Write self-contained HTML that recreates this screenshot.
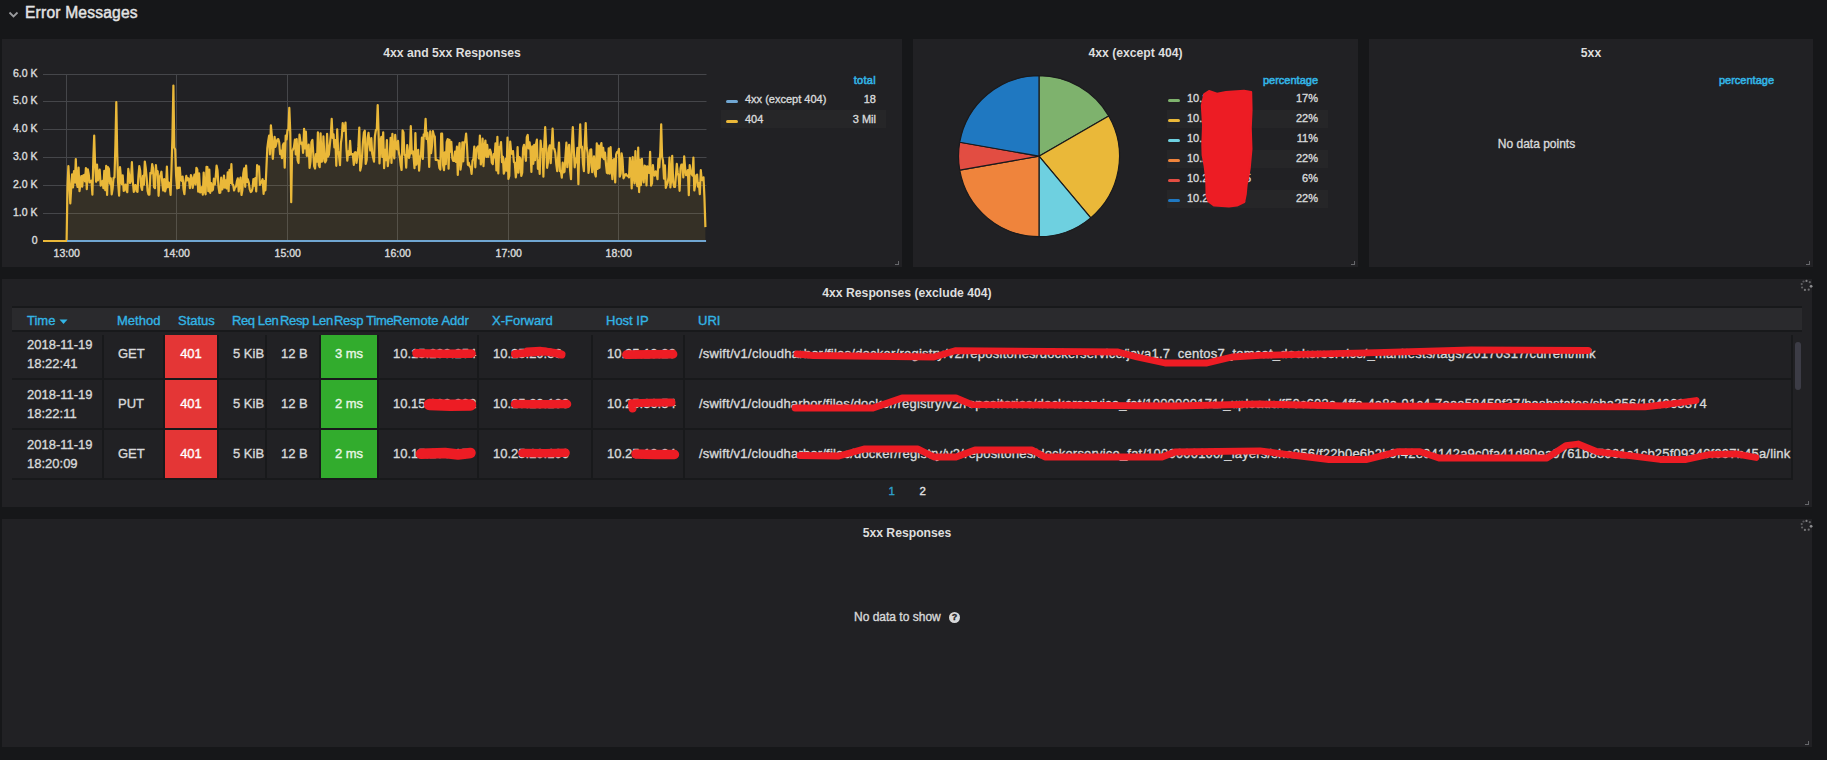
<!DOCTYPE html>
<html lang="en">
<head>
<meta charset="utf-8">
<title>Error Messages</title>
<style>
html,body{margin:0;padding:0;}
body{-webkit-text-stroke:0.35px;width:1827px;height:760px;overflow:hidden;background:#161719;color:#d8d9da;font-family:"Liberation Sans",sans-serif;font-size:13px;position:relative;}
.abs{position:absolute;}
.row-title{position:absolute;left:25px;top:2.6px;font-size:15.6px;letter-spacing:0.2px;line-height:20px;color:#e3e3e3;white-space:nowrap;-webkit-text-stroke:0.45px;}
.panel{position:absolute;background:#212124;}
.ptitle{position:absolute;left:0;right:0;top:6px;height:16px;line-height:16px;text-align:center;font-weight:bold;font-size:12.2px;color:#dedede;-webkit-text-stroke:0;white-space:nowrap;}
.resize{position:absolute;right:3px;bottom:2.5px;width:3.5px;height:2.8px;border-right:1.5px solid #66676b;border-bottom:1.3px solid #66676b;}
svg{position:absolute;left:0;top:0;}
svg text{font-family:"Liberation Sans",sans-serif;}
.lg{position:absolute;font-size:11px;line-height:18px;white-space:nowrap;color:#d8d9da;}
.lghead{color:#33b5e5;-webkit-text-stroke:0.55px;}
.lgrow{position:absolute;height:18px;}
.lgrow.alt{background:#262628;}
.lgicon{position:absolute;width:12px;height:3px;border-radius:1.5px;}
table.tb{position:absolute;border-collapse:separate;border-spacing:0;table-layout:fixed;font-size:13px;}
.tb td{box-sizing:border-box;height:50px;padding:0 0 0 14px;border-right:2px solid #18191b;border-bottom:2px solid #18191b;white-space:nowrap;overflow:hidden;line-height:19px;color:#d8d9da;}
.tb td:first-child{padding-left:15px;}
.tb td.s{padding-bottom:1.5px;}
.thead{position:absolute;background:#2a2a2d;border-top:2px solid #18191b;border-bottom:2px solid #18191b;}
.thead span{position:absolute;top:2px;line-height:21.5px;color:#33b5e5;white-space:nowrap;font-size:13px;}
</style>
</head>
<body>

<!-- dashboard row header -->
<svg class="abs" style="left:7.6px;top:9.8px" width="12" height="10" viewBox="0 0 12 10"><path d="M1.5,2.5 L5.5,6.5 L9.5,2.5" fill="none" stroke="#9a9b9e" stroke-width="1.8"/></svg>
<div class="row-title">Error Messages</div>

<!-- Panel 1 : graph -->
<div class="panel" style="left:2px;top:39px;width:900px;height:228px;">
  <div class="ptitle">4xx and 5xx Responses</div>
  <div class="resize"></div>
</div>

<!-- Panel 2 : pie -->
<div class="panel" style="left:913px;top:39px;width:445px;height:228px;">
  <div class="ptitle">4xx (except 404)</div>
  <div class="resize"></div>
</div>

<!-- Panel 3 : 5xx pie (empty) -->
<div class="panel" style="left:1369px;top:39px;width:444px;height:228px;">
  <div class="ptitle">5xx</div>
  <div class="abs" style="left:0;width:335px;top:96px;text-align:center;font-size:12px;line-height:18px;color:#d8d9da;">No data points</div>
  <div class="resize"></div>
</div>

<!-- Panel 4 : table -->
<div class="panel" style="left:2px;top:279px;width:1810px;height:228px;">
  <div class="ptitle">4xx Responses (exclude 404)</div>
  <div class="resize"></div>
</div>

<!-- Panel 5 : 5xx table (empty) -->
<div class="panel" style="left:2px;top:519px;width:1810px;height:228px;">
  <div class="ptitle">5xx Responses</div>
  <div class="abs" style="left:852px;top:89px;font-size:12px;line-height:18px;white-space:nowrap;color:#d8d9da;">No data to show</div>
  <div class="abs" style="left:947px;top:93px;width:11px;height:11px;border-radius:50%;background:#d8d9da;color:#212124;font-size:9px;font-weight:bold;line-height:11px;text-align:center;">?</div>
  <div class="resize"></div>
</div>

<!-- graph + pie drawing layer (page coordinates) -->
<svg width="1827" height="280" viewBox="0 0 1827 280">
  <g stroke="#45464a" stroke-width="1"><line x1="43" x2="706.5" y1="241.00" y2="241.00"/><line x1="43" x2="706.5" y1="213.50" y2="213.50"/><line x1="43" x2="706.5" y1="185.50" y2="185.50"/><line x1="43" x2="706.5" y1="157.50" y2="157.50"/><line x1="43" x2="706.5" y1="129.50" y2="129.50"/><line x1="43" x2="706.5" y1="101.50" y2="101.50"/><line x1="43" x2="706.5" y1="74.50" y2="74.50"/><line x1="66.50" x2="66.50" y1="74" y2="241"/><line x1="176.50" x2="176.50" y1="74" y2="241"/><line x1="287.50" x2="287.50" y1="74" y2="241"/><line x1="397.50" x2="397.50" y1="74" y2="241"/><line x1="508.50" x2="508.50" y1="74" y2="241"/><line x1="618.50" x2="618.50" y1="74" y2="241"/></g>
  <path d="M67,241 L66.6,241.0 L67.5,185.5 L68.4,166.1 L69.4,185.5 L70.3,203.5 L71.2,188.3 L72.1,174.4 L73.0,187.4 L74.0,171.0 L74.9,182.4 L75.8,159.1 L76.7,182.8 L77.6,186.9 L78.6,167.5 L79.5,191.1 L80.4,184.1 L81.3,176.1 L82.2,186.7 L83.2,175.4 L84.1,175.0 L85.0,181.4 L85.9,168.1 L86.8,189.1 L87.8,169.3 L88.7,173.9 L89.6,182.3 L90.5,181.1 L91.5,180.7 L92.4,194.6 L93.3,159.8 L94.2,135.6 L95.1,164.2 L96.1,181.8 L97.0,164.6 L97.9,180.3 L98.8,174.1 L99.7,169.7 L100.7,185.7 L101.6,182.8 L102.5,180.9 L103.4,188.2 L104.3,170.8 L105.3,190.1 L106.2,165.8 L107.1,194.9 L108.0,167.2 L108.9,168.7 L109.9,183.7 L110.8,178.4 L111.7,194.4 L112.6,188.8 L113.5,178.1 L114.5,177.1 L115.4,145.3 L116.3,102.2 L117.2,153.1 L118.1,182.4 L119.1,195.6 L120.0,167.2 L120.9,176.8 L121.8,184.1 L122.7,175.3 L123.7,191.0 L124.6,189.1 L125.5,184.7 L126.4,190.3 L127.3,192.2 L128.3,168.8 L129.2,175.6 L130.1,183.0 L131.0,180.4 L131.9,162.2 L132.9,182.5 L133.8,191.9 L134.7,185.5 L135.6,185.1 L136.6,191.2 L137.5,191.9 L138.4,176.0 L139.3,166.1 L140.2,170.8 L141.2,186.6 L142.1,189.9 L143.0,175.9 L143.9,184.7 L144.8,161.5 L145.8,168.5 L146.7,178.4 L147.6,191.1 L148.5,194.6 L149.4,194.7 L150.4,172.8 L151.3,173.4 L152.2,164.2 L153.1,168.5 L154.0,187.0 L155.0,188.2 L155.9,165.1 L156.8,174.5 L157.7,171.2 L158.6,195.8 L159.6,177.4 L160.5,174.9 L161.4,171.7 L162.3,183.0 L163.2,190.5 L164.2,179.0 L165.1,191.4 L166.0,187.7 L166.9,166.5 L167.8,187.1 L168.8,182.6 L169.7,186.1 L170.6,194.9 L171.5,168.6 L172.4,138.1 L173.4,85.6 L174.3,147.6 L175.2,149.4 L176.1,175.7 L177.1,188.5 L178.0,167.6 L178.9,188.0 L179.8,167.5 L180.7,179.7 L181.7,180.9 L182.6,176.5 L183.5,189.0 L184.4,194.1 L185.3,182.5 L186.3,175.9 L187.2,180.4 L188.1,178.2 L189.0,179.6 L189.9,188.2 L190.9,175.2 L191.8,177.9 L192.7,187.8 L193.6,180.1 L194.5,174.5 L195.5,184.5 L196.4,167.8 L197.3,169.5 L198.2,191.6 L199.1,173.3 L200.1,192.4 L201.0,192.0 L201.9,187.1 L202.8,194.7 L203.7,172.6 L204.7,190.9 L205.6,194.3 L206.5,166.8 L207.4,167.1 L208.3,191.2 L209.3,169.5 L210.2,192.8 L211.1,183.2 L212.0,190.6 L212.9,189.8 L213.9,178.7 L214.8,184.5 L215.7,177.2 L216.6,165.7 L217.5,170.1 L218.5,186.8 L219.4,192.8 L220.3,192.7 L221.2,177.7 L222.2,189.5 L223.1,186.8 L224.0,175.6 L224.9,187.7 L225.8,180.4 L226.8,188.5 L227.7,172.4 L228.6,191.2 L229.5,169.9 L230.4,182.9 L231.4,164.2 L232.3,184.1 L233.2,184.8 L234.1,190.5 L235.0,187.5 L236.0,186.6 L236.9,181.3 L237.8,178.4 L238.7,191.3 L239.6,182.3 L240.6,177.6 L241.5,195.0 L242.4,190.0 L243.3,173.2 L244.2,168.4 L245.2,186.8 L246.1,165.6 L247.0,181.9 L247.9,179.3 L248.8,182.8 L249.8,189.5 L250.7,192.0 L251.6,191.4 L252.5,188.5 L253.4,179.1 L254.4,185.6 L255.3,178.2 L256.2,191.4 L257.1,165.2 L258.0,167.6 L259.0,166.4 L259.9,184.9 L260.8,182.7 L261.7,181.9 L262.6,179.2 L263.6,193.8 L264.5,181.0 L265.4,190.3 L266.3,170.1 L267.3,148.2 L268.2,141.2 L269.1,135.7 L270.0,154.4 L270.9,125.3 L271.9,136.4 L272.8,158.8 L273.7,147.4 L274.6,136.9 L275.5,146.8 L276.5,142.8 L277.4,139.5 L278.3,139.1 L279.2,142.3 L280.1,154.1 L281.1,150.8 L282.0,158.2 L282.9,145.2 L283.8,143.3 L284.7,167.7 L285.7,135.6 L286.6,139.4 L287.5,130.0 L288.4,129.5 L289.3,107.8 L290.3,133.4 L291.2,202.2 L292.1,151.2 L293.0,149.5 L293.9,147.4 L294.9,139.7 L295.8,154.5 L296.7,139.2 L297.6,160.1 L298.5,163.0 L299.5,134.7 L300.4,141.3 L301.3,144.0 L302.2,142.7 L303.1,152.8 L304.1,128.9 L305.0,148.5 L305.9,131.7 L306.8,155.8 L307.7,155.1 L308.7,144.7 L309.6,167.9 L310.5,161.4 L311.4,142.3 L312.4,140.0 L313.3,153.6 L314.2,166.4 L315.1,168.5 L316.0,154.0 L317.0,161.6 L317.9,132.4 L318.8,165.0 L319.7,167.2 L320.6,133.4 L321.6,161.7 L322.5,161.3 L323.4,136.4 L324.3,154.6 L325.2,162.4 L326.2,160.2 L327.1,133.9 L328.0,156.7 L328.9,154.5 L329.8,145.2 L330.8,135.0 L331.7,118.9 L332.6,137.9 L333.5,134.3 L334.4,147.5 L335.4,140.0 L336.3,165.8 L337.2,129.4 L338.1,150.4 L339.0,155.4 L340.0,165.2 L340.9,143.2 L341.8,137.0 L342.7,123.1 L343.6,131.0 L344.6,130.0 L345.5,122.5 L346.4,148.0 L347.3,160.7 L348.2,151.3 L349.2,155.0 L350.1,140.9 L351.0,154.4 L351.9,154.0 L352.8,154.0 L353.8,165.0 L354.7,152.6 L355.6,152.2 L356.5,162.8 L357.5,156.0 L358.4,146.4 L359.3,127.5 L360.2,170.6 L361.1,166.5 L362.1,155.7 L363.0,141.4 L363.9,132.5 L364.8,130.7 L365.7,164.0 L366.7,159.8 L367.6,138.1 L368.5,132.9 L369.4,143.2 L370.3,150.5 L371.3,138.1 L372.2,153.5 L373.1,157.5 L374.0,161.6 L374.9,136.2 L375.9,130.0 L376.8,129.2 L377.7,105.0 L378.6,133.6 L379.5,163.5 L380.5,140.9 L381.4,136.8 L382.3,157.0 L383.2,132.4 L384.1,168.2 L385.1,149.9 L386.0,160.1 L386.9,140.1 L387.8,166.2 L388.7,158.6 L389.7,156.8 L390.6,137.9 L391.5,163.0 L392.4,133.8 L393.3,152.4 L394.3,158.3 L395.2,134.9 L396.1,147.7 L397.0,149.3 L398.0,140.8 L398.9,153.0 L399.8,157.1 L400.7,165.0 L401.6,170.0 L402.6,130.3 L403.5,132.5 L404.4,154.9 L405.3,154.9 L406.2,167.7 L407.2,145.1 L408.1,152.5 L409.0,157.9 L409.9,154.0 L410.8,126.2 L411.8,153.3 L412.7,151.2 L413.6,156.8 L414.5,168.2 L415.4,133.1 L416.4,164.6 L417.3,160.4 L418.2,149.9 L419.1,170.7 L420.0,158.8 L421.0,154.8 L421.9,137.6 L422.8,159.0 L423.7,134.4 L424.6,135.9 L425.6,118.9 L426.5,139.0 L427.4,132.8 L428.3,143.9 L429.2,166.9 L430.2,131.4 L431.1,153.2 L432.0,145.8 L432.9,131.2 L433.8,135.1 L434.8,136.9 L435.7,160.0 L436.6,159.7 L437.5,160.3 L438.4,160.5 L439.4,168.0 L440.3,169.5 L441.2,133.6 L442.1,133.7 L443.1,165.4 L444.0,170.1 L444.9,152.3 L445.8,164.2 L446.7,142.1 L447.7,139.1 L448.6,168.7 L449.5,139.9 L450.4,151.6 L451.3,141.9 L452.3,158.2 L453.2,160.8 L454.1,160.8 L455.0,151.6 L455.9,161.8 L456.9,146.7 L457.8,174.9 L458.7,150.5 L459.6,143.2 L460.5,169.6 L461.5,162.2 L462.4,142.3 L463.3,161.3 L464.2,142.2 L465.1,142.2 L466.1,133.6 L467.0,146.2 L467.9,164.8 L468.8,162.8 L469.7,166.4 L470.7,167.2 L471.6,173.8 L472.5,160.8 L473.4,159.1 L474.3,146.7 L475.3,167.3 L476.2,150.5 L477.1,147.7 L478.0,146.4 L478.9,158.5 L479.9,135.6 L480.8,164.5 L481.7,159.2 L482.6,138.7 L483.5,166.1 L484.5,146.9 L485.4,140.5 L486.3,156.8 L487.2,144.8 L488.2,156.8 L489.1,153.4 L490.0,149.6 L490.9,152.3 L491.8,162.6 L492.8,164.1 L493.7,154.1 L494.6,157.5 L495.5,143.3 L496.4,170.5 L497.4,136.9 L498.3,173.5 L499.2,147.0 L500.1,147.9 L501.0,142.1 L502.0,162.1 L502.9,156.9 L503.8,173.6 L504.7,170.5 L505.6,158.9 L506.6,170.6 L507.5,137.5 L508.4,178.9 L509.3,176.0 L510.2,141.7 L511.2,152.4 L512.1,153.9 L513.0,151.1 L513.9,162.0 L514.8,162.6 L515.8,177.4 L516.7,169.6 L517.6,147.2 L518.5,172.6 L519.4,157.1 L520.4,158.9 L521.3,176.0 L522.2,172.7 L523.1,148.0 L524.0,144.9 L525.0,153.5 L525.9,160.8 L526.8,137.1 L527.7,134.9 L528.6,148.5 L529.6,142.4 L530.5,150.9 L531.4,171.9 L532.3,146.3 L533.3,163.8 L534.2,144.8 L535.1,160.1 L536.0,144.1 L536.9,139.7 L537.9,168.8 L538.8,160.6 L539.7,173.9 L540.6,140.5 L541.5,150.0 L542.5,149.1 L543.4,176.7 L544.3,144.7 L545.2,127.2 L546.1,145.9 L547.1,167.8 L548.0,162.3 L548.9,148.5 L549.8,145.4 L550.7,163.1 L551.7,145.5 L552.6,128.6 L553.5,148.5 L554.4,149.0 L555.3,153.0 L556.3,164.4 L557.2,171.2 L558.1,158.0 L559.0,142.7 L559.9,171.2 L560.9,171.1 L561.8,177.6 L562.7,162.6 L563.6,172.5 L564.5,171.6 L565.5,156.0 L566.4,142.7 L567.3,167.2 L568.2,152.6 L569.1,144.8 L570.1,170.7 L571.0,179.1 L571.9,145.1 L572.8,127.2 L573.7,147.8 L574.7,167.3 L575.6,158.5 L576.5,162.4 L577.4,147.9 L578.4,184.2 L579.3,144.0 L580.2,124.4 L581.1,147.5 L582.0,146.6 L583.0,163.9 L583.9,171.1 L584.8,143.4 L585.7,123.1 L586.6,147.2 L587.6,152.9 L588.5,172.9 L589.4,166.1 L590.3,149.7 L591.2,149.4 L592.2,172.2 L593.1,163.0 L594.0,156.4 L594.9,173.4 L595.8,176.5 L596.8,143.3 L597.7,168.9 L598.6,145.7 L599.5,167.8 L600.4,147.1 L601.4,143.1 L602.3,157.3 L603.2,147.9 L604.1,159.2 L605.0,152.5 L606.0,164.3 L606.9,172.8 L607.8,173.3 L608.7,148.3 L609.6,173.7 L610.6,147.0 L611.5,168.1 L612.4,179.2 L613.3,160.1 L614.2,159.1 L615.2,182.5 L616.1,154.7 L617.0,152.2 L617.9,152.5 L618.9,148.8 L619.8,176.6 L620.7,173.4 L621.6,153.3 L622.5,159.2 L623.5,178.3 L624.4,176.5 L625.3,174.3 L626.2,174.2 L627.1,175.8 L628.1,176.1 L629.0,177.4 L629.9,157.8 L630.8,164.1 L631.7,188.4 L632.7,157.0 L633.6,175.6 L634.5,183.4 L635.4,151.2 L636.3,178.2 L637.3,186.2 L638.2,147.5 L639.1,192.1 L640.0,159.6 L640.9,185.2 L641.9,158.8 L642.8,177.1 L643.7,182.4 L644.6,165.7 L645.5,166.4 L646.5,185.4 L647.4,166.3 L648.3,169.2 L649.2,173.0 L650.1,151.9 L651.1,185.6 L652.0,183.4 L652.9,165.1 L653.8,175.0 L654.7,175.6 L655.7,171.3 L656.6,173.0 L657.5,179.2 L658.4,158.9 L659.3,167.4 L660.3,151.8 L661.2,124.4 L662.1,156.8 L663.0,160.5 L664.0,178.7 L664.9,165.4 L665.8,187.9 L666.7,185.0 L667.6,182.8 L668.6,177.1 L669.5,157.7 L670.4,187.4 L671.3,179.1 L672.2,155.8 L673.2,182.4 L674.1,186.9 L675.0,186.8 L675.9,175.8 L676.8,163.9 L677.8,172.9 L678.7,176.5 L679.6,190.8 L680.5,168.6 L681.4,164.5 L682.4,164.5 L683.3,177.5 L684.2,156.4 L685.1,167.6 L686.0,175.2 L687.0,173.2 L687.9,170.1 L688.8,195.2 L689.7,165.1 L690.6,171.0 L691.6,173.9 L692.5,175.6 L693.4,157.6 L694.3,190.5 L695.2,184.7 L696.2,175.4 L697.1,174.6 L698.0,186.7 L698.9,183.1 L699.8,194.2 L700.8,170.2 L701.7,179.8 L702.6,180.2 L703.5,177.3 L704.4,196.6 L705.4,227.1 L705.4,241 Z" fill="#EAB839" fill-opacity="0.1" stroke="none"/>
  <path d="M43,241 L67,241 L66.6,241.0 L67.5,185.5 L68.4,166.1 L69.4,185.5 L70.3,203.5 L71.2,188.3 L72.1,174.4 L73.0,187.4 L74.0,171.0 L74.9,182.4 L75.8,159.1 L76.7,182.8 L77.6,186.9 L78.6,167.5 L79.5,191.1 L80.4,184.1 L81.3,176.1 L82.2,186.7 L83.2,175.4 L84.1,175.0 L85.0,181.4 L85.9,168.1 L86.8,189.1 L87.8,169.3 L88.7,173.9 L89.6,182.3 L90.5,181.1 L91.5,180.7 L92.4,194.6 L93.3,159.8 L94.2,135.6 L95.1,164.2 L96.1,181.8 L97.0,164.6 L97.9,180.3 L98.8,174.1 L99.7,169.7 L100.7,185.7 L101.6,182.8 L102.5,180.9 L103.4,188.2 L104.3,170.8 L105.3,190.1 L106.2,165.8 L107.1,194.9 L108.0,167.2 L108.9,168.7 L109.9,183.7 L110.8,178.4 L111.7,194.4 L112.6,188.8 L113.5,178.1 L114.5,177.1 L115.4,145.3 L116.3,102.2 L117.2,153.1 L118.1,182.4 L119.1,195.6 L120.0,167.2 L120.9,176.8 L121.8,184.1 L122.7,175.3 L123.7,191.0 L124.6,189.1 L125.5,184.7 L126.4,190.3 L127.3,192.2 L128.3,168.8 L129.2,175.6 L130.1,183.0 L131.0,180.4 L131.9,162.2 L132.9,182.5 L133.8,191.9 L134.7,185.5 L135.6,185.1 L136.6,191.2 L137.5,191.9 L138.4,176.0 L139.3,166.1 L140.2,170.8 L141.2,186.6 L142.1,189.9 L143.0,175.9 L143.9,184.7 L144.8,161.5 L145.8,168.5 L146.7,178.4 L147.6,191.1 L148.5,194.6 L149.4,194.7 L150.4,172.8 L151.3,173.4 L152.2,164.2 L153.1,168.5 L154.0,187.0 L155.0,188.2 L155.9,165.1 L156.8,174.5 L157.7,171.2 L158.6,195.8 L159.6,177.4 L160.5,174.9 L161.4,171.7 L162.3,183.0 L163.2,190.5 L164.2,179.0 L165.1,191.4 L166.0,187.7 L166.9,166.5 L167.8,187.1 L168.8,182.6 L169.7,186.1 L170.6,194.9 L171.5,168.6 L172.4,138.1 L173.4,85.6 L174.3,147.6 L175.2,149.4 L176.1,175.7 L177.1,188.5 L178.0,167.6 L178.9,188.0 L179.8,167.5 L180.7,179.7 L181.7,180.9 L182.6,176.5 L183.5,189.0 L184.4,194.1 L185.3,182.5 L186.3,175.9 L187.2,180.4 L188.1,178.2 L189.0,179.6 L189.9,188.2 L190.9,175.2 L191.8,177.9 L192.7,187.8 L193.6,180.1 L194.5,174.5 L195.5,184.5 L196.4,167.8 L197.3,169.5 L198.2,191.6 L199.1,173.3 L200.1,192.4 L201.0,192.0 L201.9,187.1 L202.8,194.7 L203.7,172.6 L204.7,190.9 L205.6,194.3 L206.5,166.8 L207.4,167.1 L208.3,191.2 L209.3,169.5 L210.2,192.8 L211.1,183.2 L212.0,190.6 L212.9,189.8 L213.9,178.7 L214.8,184.5 L215.7,177.2 L216.6,165.7 L217.5,170.1 L218.5,186.8 L219.4,192.8 L220.3,192.7 L221.2,177.7 L222.2,189.5 L223.1,186.8 L224.0,175.6 L224.9,187.7 L225.8,180.4 L226.8,188.5 L227.7,172.4 L228.6,191.2 L229.5,169.9 L230.4,182.9 L231.4,164.2 L232.3,184.1 L233.2,184.8 L234.1,190.5 L235.0,187.5 L236.0,186.6 L236.9,181.3 L237.8,178.4 L238.7,191.3 L239.6,182.3 L240.6,177.6 L241.5,195.0 L242.4,190.0 L243.3,173.2 L244.2,168.4 L245.2,186.8 L246.1,165.6 L247.0,181.9 L247.9,179.3 L248.8,182.8 L249.8,189.5 L250.7,192.0 L251.6,191.4 L252.5,188.5 L253.4,179.1 L254.4,185.6 L255.3,178.2 L256.2,191.4 L257.1,165.2 L258.0,167.6 L259.0,166.4 L259.9,184.9 L260.8,182.7 L261.7,181.9 L262.6,179.2 L263.6,193.8 L264.5,181.0 L265.4,190.3 L266.3,170.1 L267.3,148.2 L268.2,141.2 L269.1,135.7 L270.0,154.4 L270.9,125.3 L271.9,136.4 L272.8,158.8 L273.7,147.4 L274.6,136.9 L275.5,146.8 L276.5,142.8 L277.4,139.5 L278.3,139.1 L279.2,142.3 L280.1,154.1 L281.1,150.8 L282.0,158.2 L282.9,145.2 L283.8,143.3 L284.7,167.7 L285.7,135.6 L286.6,139.4 L287.5,130.0 L288.4,129.5 L289.3,107.8 L290.3,133.4 L291.2,202.2 L292.1,151.2 L293.0,149.5 L293.9,147.4 L294.9,139.7 L295.8,154.5 L296.7,139.2 L297.6,160.1 L298.5,163.0 L299.5,134.7 L300.4,141.3 L301.3,144.0 L302.2,142.7 L303.1,152.8 L304.1,128.9 L305.0,148.5 L305.9,131.7 L306.8,155.8 L307.7,155.1 L308.7,144.7 L309.6,167.9 L310.5,161.4 L311.4,142.3 L312.4,140.0 L313.3,153.6 L314.2,166.4 L315.1,168.5 L316.0,154.0 L317.0,161.6 L317.9,132.4 L318.8,165.0 L319.7,167.2 L320.6,133.4 L321.6,161.7 L322.5,161.3 L323.4,136.4 L324.3,154.6 L325.2,162.4 L326.2,160.2 L327.1,133.9 L328.0,156.7 L328.9,154.5 L329.8,145.2 L330.8,135.0 L331.7,118.9 L332.6,137.9 L333.5,134.3 L334.4,147.5 L335.4,140.0 L336.3,165.8 L337.2,129.4 L338.1,150.4 L339.0,155.4 L340.0,165.2 L340.9,143.2 L341.8,137.0 L342.7,123.1 L343.6,131.0 L344.6,130.0 L345.5,122.5 L346.4,148.0 L347.3,160.7 L348.2,151.3 L349.2,155.0 L350.1,140.9 L351.0,154.4 L351.9,154.0 L352.8,154.0 L353.8,165.0 L354.7,152.6 L355.6,152.2 L356.5,162.8 L357.5,156.0 L358.4,146.4 L359.3,127.5 L360.2,170.6 L361.1,166.5 L362.1,155.7 L363.0,141.4 L363.9,132.5 L364.8,130.7 L365.7,164.0 L366.7,159.8 L367.6,138.1 L368.5,132.9 L369.4,143.2 L370.3,150.5 L371.3,138.1 L372.2,153.5 L373.1,157.5 L374.0,161.6 L374.9,136.2 L375.9,130.0 L376.8,129.2 L377.7,105.0 L378.6,133.6 L379.5,163.5 L380.5,140.9 L381.4,136.8 L382.3,157.0 L383.2,132.4 L384.1,168.2 L385.1,149.9 L386.0,160.1 L386.9,140.1 L387.8,166.2 L388.7,158.6 L389.7,156.8 L390.6,137.9 L391.5,163.0 L392.4,133.8 L393.3,152.4 L394.3,158.3 L395.2,134.9 L396.1,147.7 L397.0,149.3 L398.0,140.8 L398.9,153.0 L399.8,157.1 L400.7,165.0 L401.6,170.0 L402.6,130.3 L403.5,132.5 L404.4,154.9 L405.3,154.9 L406.2,167.7 L407.2,145.1 L408.1,152.5 L409.0,157.9 L409.9,154.0 L410.8,126.2 L411.8,153.3 L412.7,151.2 L413.6,156.8 L414.5,168.2 L415.4,133.1 L416.4,164.6 L417.3,160.4 L418.2,149.9 L419.1,170.7 L420.0,158.8 L421.0,154.8 L421.9,137.6 L422.8,159.0 L423.7,134.4 L424.6,135.9 L425.6,118.9 L426.5,139.0 L427.4,132.8 L428.3,143.9 L429.2,166.9 L430.2,131.4 L431.1,153.2 L432.0,145.8 L432.9,131.2 L433.8,135.1 L434.8,136.9 L435.7,160.0 L436.6,159.7 L437.5,160.3 L438.4,160.5 L439.4,168.0 L440.3,169.5 L441.2,133.6 L442.1,133.7 L443.1,165.4 L444.0,170.1 L444.9,152.3 L445.8,164.2 L446.7,142.1 L447.7,139.1 L448.6,168.7 L449.5,139.9 L450.4,151.6 L451.3,141.9 L452.3,158.2 L453.2,160.8 L454.1,160.8 L455.0,151.6 L455.9,161.8 L456.9,146.7 L457.8,174.9 L458.7,150.5 L459.6,143.2 L460.5,169.6 L461.5,162.2 L462.4,142.3 L463.3,161.3 L464.2,142.2 L465.1,142.2 L466.1,133.6 L467.0,146.2 L467.9,164.8 L468.8,162.8 L469.7,166.4 L470.7,167.2 L471.6,173.8 L472.5,160.8 L473.4,159.1 L474.3,146.7 L475.3,167.3 L476.2,150.5 L477.1,147.7 L478.0,146.4 L478.9,158.5 L479.9,135.6 L480.8,164.5 L481.7,159.2 L482.6,138.7 L483.5,166.1 L484.5,146.9 L485.4,140.5 L486.3,156.8 L487.2,144.8 L488.2,156.8 L489.1,153.4 L490.0,149.6 L490.9,152.3 L491.8,162.6 L492.8,164.1 L493.7,154.1 L494.6,157.5 L495.5,143.3 L496.4,170.5 L497.4,136.9 L498.3,173.5 L499.2,147.0 L500.1,147.9 L501.0,142.1 L502.0,162.1 L502.9,156.9 L503.8,173.6 L504.7,170.5 L505.6,158.9 L506.6,170.6 L507.5,137.5 L508.4,178.9 L509.3,176.0 L510.2,141.7 L511.2,152.4 L512.1,153.9 L513.0,151.1 L513.9,162.0 L514.8,162.6 L515.8,177.4 L516.7,169.6 L517.6,147.2 L518.5,172.6 L519.4,157.1 L520.4,158.9 L521.3,176.0 L522.2,172.7 L523.1,148.0 L524.0,144.9 L525.0,153.5 L525.9,160.8 L526.8,137.1 L527.7,134.9 L528.6,148.5 L529.6,142.4 L530.5,150.9 L531.4,171.9 L532.3,146.3 L533.3,163.8 L534.2,144.8 L535.1,160.1 L536.0,144.1 L536.9,139.7 L537.9,168.8 L538.8,160.6 L539.7,173.9 L540.6,140.5 L541.5,150.0 L542.5,149.1 L543.4,176.7 L544.3,144.7 L545.2,127.2 L546.1,145.9 L547.1,167.8 L548.0,162.3 L548.9,148.5 L549.8,145.4 L550.7,163.1 L551.7,145.5 L552.6,128.6 L553.5,148.5 L554.4,149.0 L555.3,153.0 L556.3,164.4 L557.2,171.2 L558.1,158.0 L559.0,142.7 L559.9,171.2 L560.9,171.1 L561.8,177.6 L562.7,162.6 L563.6,172.5 L564.5,171.6 L565.5,156.0 L566.4,142.7 L567.3,167.2 L568.2,152.6 L569.1,144.8 L570.1,170.7 L571.0,179.1 L571.9,145.1 L572.8,127.2 L573.7,147.8 L574.7,167.3 L575.6,158.5 L576.5,162.4 L577.4,147.9 L578.4,184.2 L579.3,144.0 L580.2,124.4 L581.1,147.5 L582.0,146.6 L583.0,163.9 L583.9,171.1 L584.8,143.4 L585.7,123.1 L586.6,147.2 L587.6,152.9 L588.5,172.9 L589.4,166.1 L590.3,149.7 L591.2,149.4 L592.2,172.2 L593.1,163.0 L594.0,156.4 L594.9,173.4 L595.8,176.5 L596.8,143.3 L597.7,168.9 L598.6,145.7 L599.5,167.8 L600.4,147.1 L601.4,143.1 L602.3,157.3 L603.2,147.9 L604.1,159.2 L605.0,152.5 L606.0,164.3 L606.9,172.8 L607.8,173.3 L608.7,148.3 L609.6,173.7 L610.6,147.0 L611.5,168.1 L612.4,179.2 L613.3,160.1 L614.2,159.1 L615.2,182.5 L616.1,154.7 L617.0,152.2 L617.9,152.5 L618.9,148.8 L619.8,176.6 L620.7,173.4 L621.6,153.3 L622.5,159.2 L623.5,178.3 L624.4,176.5 L625.3,174.3 L626.2,174.2 L627.1,175.8 L628.1,176.1 L629.0,177.4 L629.9,157.8 L630.8,164.1 L631.7,188.4 L632.7,157.0 L633.6,175.6 L634.5,183.4 L635.4,151.2 L636.3,178.2 L637.3,186.2 L638.2,147.5 L639.1,192.1 L640.0,159.6 L640.9,185.2 L641.9,158.8 L642.8,177.1 L643.7,182.4 L644.6,165.7 L645.5,166.4 L646.5,185.4 L647.4,166.3 L648.3,169.2 L649.2,173.0 L650.1,151.9 L651.1,185.6 L652.0,183.4 L652.9,165.1 L653.8,175.0 L654.7,175.6 L655.7,171.3 L656.6,173.0 L657.5,179.2 L658.4,158.9 L659.3,167.4 L660.3,151.8 L661.2,124.4 L662.1,156.8 L663.0,160.5 L664.0,178.7 L664.9,165.4 L665.8,187.9 L666.7,185.0 L667.6,182.8 L668.6,177.1 L669.5,157.7 L670.4,187.4 L671.3,179.1 L672.2,155.8 L673.2,182.4 L674.1,186.9 L675.0,186.8 L675.9,175.8 L676.8,163.9 L677.8,172.9 L678.7,176.5 L679.6,190.8 L680.5,168.6 L681.4,164.5 L682.4,164.5 L683.3,177.5 L684.2,156.4 L685.1,167.6 L686.0,175.2 L687.0,173.2 L687.9,170.1 L688.8,195.2 L689.7,165.1 L690.6,171.0 L691.6,173.9 L692.5,175.6 L693.4,157.6 L694.3,190.5 L695.2,184.7 L696.2,175.4 L697.1,174.6 L698.0,186.7 L698.9,183.1 L699.8,194.2 L700.8,170.2 L701.7,179.8 L702.6,180.2 L703.5,177.3 L704.4,196.6 L705.4,227.1" fill="none" stroke="#EAB839" stroke-width="2.2" stroke-linejoin="round"/>
  <line x1="67" x2="706" y1="241" y2="241" stroke="#70a6d2" stroke-width="2"/>
  <g font-size="10.5" fill="#d8d9da" stroke="#d8d9da" stroke-width="0.4"><text x="37.5" y="243.8" text-anchor="end">0</text><text x="37.5" y="216.3" text-anchor="end">1.0 K</text><text x="37.5" y="188.3" text-anchor="end">2.0 K</text><text x="37.5" y="160.3" text-anchor="end">3.0 K</text><text x="37.5" y="132.3" text-anchor="end">4.0 K</text><text x="37.5" y="104.3" text-anchor="end">5.0 K</text><text x="37.5" y="77.3" text-anchor="end">6.0 K</text><text x="66.7" y="257" text-anchor="middle">13:00</text><text x="176.7" y="257" text-anchor="middle">14:00</text><text x="287.7" y="257" text-anchor="middle">15:00</text><text x="397.7" y="257" text-anchor="middle">16:00</text><text x="508.7" y="257" text-anchor="middle">17:00</text><text x="618.7" y="257" text-anchor="middle">18:00</text></g>
  <g><path d="M1039.00,156.20 L1039.00,75.70 A80.50,80.50 0 0 1 1108.72,115.95 Z" fill="#7EB26D" stroke="#1a1a1c" stroke-width="1.2" stroke-linejoin="round"/>
<path d="M1039.00,156.20 L1108.72,115.95 A80.50,80.50 0 0 1 1090.74,217.87 Z" fill="#EAB839" stroke="#1a1a1c" stroke-width="1.2" stroke-linejoin="round"/>
<path d="M1039.00,156.20 L1090.74,217.87 A80.50,80.50 0 0 1 1039.00,236.70 Z" fill="#6ED0E0" stroke="#1a1a1c" stroke-width="1.2" stroke-linejoin="round"/>
<path d="M1039.00,156.20 L1039.00,236.70 A80.50,80.50 0 0 1 959.72,170.18 Z" fill="#EF843C" stroke="#1a1a1c" stroke-width="1.2" stroke-linejoin="round"/>
<path d="M1039.00,156.20 L959.72,170.18 A80.50,80.50 0 0 1 959.72,142.22 Z" fill="#E24D42" stroke="#1a1a1c" stroke-width="1.2" stroke-linejoin="round"/>
<path d="M1039.00,156.20 L959.72,142.22 A80.50,80.50 0 0 1 1039.00,75.70 Z" fill="#1F78C1" stroke="#1a1a1c" stroke-width="1.2" stroke-linejoin="round"/>
</g>
</svg>

<!-- graph legend -->
<div class="lgrow alt" style="left:721px;top:110px;width:165px;"></div>
<div class="lg lghead" style="right:951px;top:71px;letter-spacing:0.3px;">total</div>
<div class="lgicon" style="left:726px;top:99.5px;background:#70a6d2;"></div>
<div class="lg" style="left:745px;top:90px;">4xx (except 404)</div>
<div class="lg" style="right:951px;top:90px;">18</div>
<div class="lgicon" style="left:726px;top:119.5px;background:#EAB839;"></div>
<div class="lg" style="left:745px;top:110px;">404</div>
<div class="lg" style="right:951px;top:110px;">3 Mil</div>

<!-- pie legend -->
<div class="lgrow alt" style="left:1167px;top:110px;width:161px;"></div>
<div class="lgrow alt" style="left:1167px;top:150px;width:161px;"></div>
<div class="lgrow alt" style="left:1167px;top:190px;width:161px;"></div>
<div class="lg lghead" style="right:509px;top:71px;">percentage</div>
<div class="lgicon" style="left:1168px;top:98.5px;background:#7EB26D;"></div>
<div class="lgicon" style="left:1168px;top:118.5px;background:#EAB839;"></div>
<div class="lgicon" style="left:1168px;top:138.5px;background:#6ED0E0;"></div>
<div class="lgicon" style="left:1168px;top:158.5px;background:#EF843C;"></div>
<div class="lgicon" style="left:1168px;top:178.5px;background:#E24D42;"></div>
<div class="lgicon" style="left:1168px;top:198.5px;background:#1F78C1;"></div>
<div class="lg" style="left:1187px;top:89px;">10.25.20.36</div>
<div class="lg" style="left:1187px;top:109px;">10.25.8.12</div>
<div class="lg" style="left:1187px;top:129px;">10.25.36.18</div>
<div class="lg" style="left:1187px;top:149px;">10.25.36.9</div>
<div class="lg" style="left:1187px;top:169px;">10.233.64.15</div>
<div class="lg" style="left:1187px;top:189px;">10.233.64.1</div>
<div class="lg" style="right:509px;top:89px;">17%</div>
<div class="lg" style="right:509px;top:109px;">22%</div>
<div class="lg" style="right:509px;top:129px;">11%</div>
<div class="lg" style="right:509px;top:149px;">22%</div>
<div class="lg" style="right:509px;top:169px;">6%</div>
<div class="lg" style="right:509px;top:189px;">22%</div>
<div class="lg lghead" style="right:53px;top:71px;">percentage</div>

<!-- table header -->
<div class="thead" style="left:12px;top:306.3px;width:1790px;height:21.6px;">
  <span style="left:15px;">Time</span>
  <span style="left:105px;">Method</span>
  <span style="left:166px;">Status</span>
  <span style="left:220px;letter-spacing:-0.4px;">Req Len</span>
  <span style="left:268px;letter-spacing:-0.35px;">Resp Len</span>
  <span style="left:322px;letter-spacing:-0.3px;width:59px;overflow:hidden;">Resp Time</span>
  <span style="left:381px;">Remote Addr</span>
  <span style="left:480px;">X-Forward</span>
  <span style="left:594px;">Host IP</span>
  <span style="left:686px;">URI</span>
</div>
<svg class="abs" style="left:59px;top:319px" width="9" height="6" viewBox="0 0 9 6"><path d="M0.5,0.5 L8.5,0.5 L4.5,5 Z" fill="#33b5e5"/></svg>

<!-- table body -->
<div class="abs" style="left:12px;top:334.5px;width:1781px;height:146px;overflow:hidden;"><table class="tb" style="left:0;top:-4.5px;width:1781px;">
<colgroup><col style="width:92px"><col style="width:61px"><col style="width:54px"><col style="width:48px"><col style="width:54px"><col style="width:58px"><col style="width:100px"><col style="width:114px"><col style="width:92px"><col></colgroup>
<tr>
  <td>2018-11-19<br>18:22:41</td><td class="s">GET</td><td style="background:#e43636;color:#fff;text-align:center;padding:0 0 1.5px 0">401</td><td class="s">5 KiB</td><td class="s">12 B</td><td style="background:#32ac2d;color:#eaf6e8;text-align:center;padding:0 0 1.5px 0">3 ms</td><td class="s">10.15.233.254</td><td class="s">10.25.20.36</td><td class="s">10.25.10.20</td><td class="s"><span class="uri" style="letter-spacing:0.235px">/swift/v1/cloudharbor/files/docker/registry/v2/repositories/dockerservice/java1.7_centos7_tomcat_dockerservice/_manifests/tags/20170317/current/link</span></td>
</tr>
<tr>
  <td>2018-11-19<br>18:22:11</td><td class="s">PUT</td><td style="background:#e43636;color:#fff;text-align:center;padding:0 0 1.5px 0">401</td><td class="s">5 KiB</td><td class="s">12 B</td><td style="background:#32ac2d;color:#eaf6e8;text-align:center;padding:0 0 1.5px 0">2 ms</td><td class="s">10.15.233.202</td><td class="s">10.25.20.100</td><td class="s">10.25.36.54</td><td class="s"><span class="uri" style="letter-spacing:0.183px">/swift/v1/cloudharbor/files/docker/registry/v2/repositories/dockerservice_fat/1000000171/_uploads/f50c603e-4ffa-4a8a-91c4-7eae58459f37/hashstates/sha256/184963374</span></td>
</tr>
<tr>
  <td>2018-11-19<br>18:20:09</td><td class="s">GET</td><td style="background:#e43636;color:#fff;text-align:center;padding:0 0 1.5px 0">401</td><td class="s">5 KiB</td><td class="s">12 B</td><td style="background:#32ac2d;color:#eaf6e8;text-align:center;padding:0 0 1.5px 0">2 ms</td><td class="s">10.15.233.27</td><td class="s">10.25.20.100</td><td class="s">10.25.10.24</td><td class="s"><span class="uri" style="letter-spacing:0.194px">/swift/v1/cloudharbor/files/docker/registry/v2/repositories/dockerservice_fat/1000000100/_layers/sha256/f22b0e6b2b9f42e04142a9c0fa41d80ea0761b85061c1cb25f09340f997b45a/link</span></td>
</tr>
</table></div>
<!-- scrollbar thumb -->
<div class="abs" style="left:1795px;top:342px;width:6px;height:48px;border-radius:3px;background:#3c3c46;"></div>

<!-- pagination -->
<div class="abs" style="left:888.5px;top:483.3px;font-size:11.5px;line-height:16px;color:#2ea3cf;">1</div>
<div class="abs" style="left:919.6px;top:483.3px;font-size:11.5px;line-height:16px;color:#e4e4e4;">2</div>

<!-- loading spinners -->
<svg class="abs" style="left:1800px;top:279px" width="13" height="13" viewBox="-6.5 -6.5 13 13">
  <g fill="#8e8e90"><circle cx="0" cy="-4.6" r="1.1" opacity=".9"/><circle cx="3.3" cy="-3.3" r="1.1" opacity=".6"/><circle cx="4.6" cy="0.8" r="1.4" opacity="1"/><circle cx="2.2" cy="4.2" r="1.1" opacity=".7"/><circle cx="-1.6" cy="4.4" r="1.1" opacity=".8"/><circle cx="-4.4" cy="2" r="1.1" opacity=".6"/><circle cx="-4.8" cy="-1.4" r="1.1" opacity=".6"/><circle cx="-3" cy="-4" r="1.1" opacity=".5"/></g>
</svg>
<svg class="abs" style="left:1800px;top:519px" width="13" height="13" viewBox="-6.5 -6.5 13 13">
  <g fill="#8e8e90"><circle cx="0" cy="-4.6" r="1.1" opacity=".9"/><circle cx="3.3" cy="-3.3" r="1.1" opacity=".6"/><circle cx="4.6" cy="0.8" r="1.4" opacity="1"/><circle cx="2.2" cy="4.2" r="1.1" opacity=".7"/><circle cx="-1.6" cy="4.4" r="1.1" opacity=".8"/><circle cx="-4.4" cy="2" r="1.1" opacity=".6"/><circle cx="-4.8" cy="-1.4" r="1.1" opacity=".6"/><circle cx="-3" cy="-4" r="1.1" opacity=".5"/></g>
</svg>

<!-- red redaction scribbles -->
<svg width="1827" height="760" viewBox="0 0 1827 760" style="pointer-events:none">
  <g fill="none" stroke="#ed1c24" stroke-linecap="round" stroke-linejoin="round">
    <!-- pie legend blob -->
    <path d="M1204.3,94 L1209,91 L1217,93.8 L1226,92 L1233,91.4 L1244,90.8 L1251.2,92 L1251.6,110 L1250.8,128 L1251.5,149 L1249.7,168.7 L1248.5,176 L1246.7,184.5 L1245.8,194 L1244.2,202 L1237,205.5 L1229,206.4 L1214.2,205.6 L1208.5,201.5 L1206.6,196 L1206.2,180 L1204.6,166 L1202.6,155 L1202.3,145 L1203,125 L1201.8,105.5 Z" fill="#ed1c24" stroke-width="2"/>
    <!-- row 1 -->
    <path d="M416.5,353.2 L445,353.8 L471.5,353.6" stroke-width="8.6"/>
    <path d="M515,354 L530,352.5 L545,351.5 L555,353 L561.5,354.5" stroke-width="8"/>
    <path d="M527,350.5 L540,349.8 L550,351.5" stroke-width="6"/>
    <path d="M626.5,354.6 L650,354.4 L673,354.2" stroke-width="8.8"/>
    <path d="M797,354 L813,355.5 L934,357 L956,350.6 L1118,352 L1137,357 L1165,363 L1207,363 L1232,357 L1260,355.3 L1376,352.7 L1471,349.8 L1588,350.5" stroke-width="6.8"/>
    <!-- row 2 -->
    <path d="M429.5,404.5 L450,405.3 L470.5,405" stroke-width="11.5"/>
    <path d="M515,404 L540,404.3 L567,404" stroke-width="8.6"/>
    <path d="M632,403.2 L650,402.8 L671.5,402.6 M632,405 L632.5,408.5" stroke-width="8"/>
    <path d="M795,408 L873,408 L902,398 L956,398 L972,404.6 L1175,406 L1260,404 L1345,406 L1645,406.8 L1670,404 L1696,400.5" stroke-width="6.8"/>
    <!-- row 3 -->
    <path d="M421,453.8 L445,453 L458,454.5 L470.5,453" stroke-width="10.5"/>
    <path d="M522.5,453 L545,453.2 L565.5,452.8" stroke-width="8.6"/>
    <path d="M636,454 L655,454.5 L674.5,454.5" stroke-width="9.4"/>
    <path d="M800,455.5 L839,456 L864,449 L918,449 L934,457 L956,457 L975,450 L1032,450 L1045,457 L1162,457 L1175,452 L1260,450.8 L1282,453.8 L1329,459.5 L1367,459.5 L1398,451.6 L1420,451.6 L1439,458 L1547,458 L1566,445.5 L1578,444 L1597,451.6 L1660,459.5 L1686,459.5 L1708,454.7 L1736,453.8 L1756,457.5" stroke-width="6.8"/>
  </g>
</svg>

</body>
</html>
